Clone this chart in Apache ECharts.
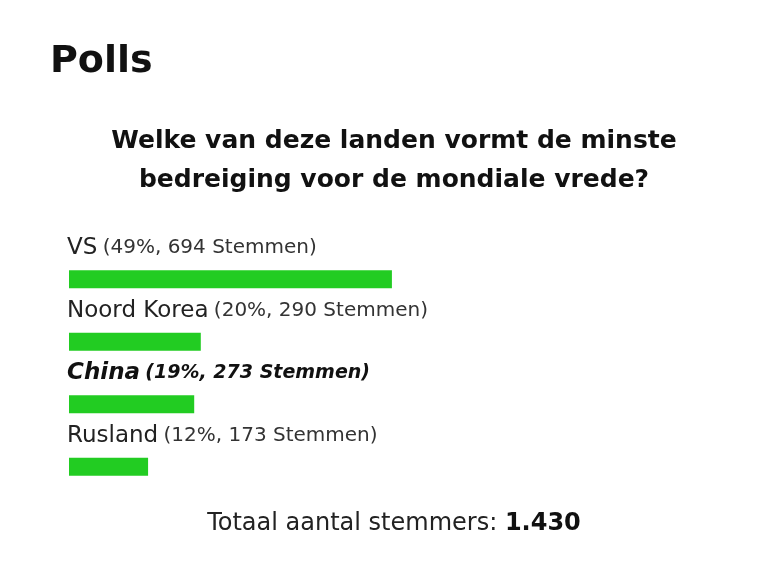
<!DOCTYPE html>
<html>
<head>
<meta charset="utf-8">
<script src="https://cdn.jsdelivr.net/npm/echarts@6/dist/echarts.min.js"></script>
<style>
  html, body { margin: 0; padding: 0; background: #fff; }
  #chart { width: 759px; height: 562px; }
</style>
</head>
<body>
<div id="chart"></div>
<script>
// Poll options, their share of the votes and the raw vote counts
const countries = ['VS', 'Noord Korea', 'China', 'Rusland'];
const percentages = [49, 20, 19, 12];
const votes = [694, 290, 273, 173];
// The option the current visitor voted for is highlighted
const chosen = 'China';

const FONT = 'DejaVu Sans';
const totalVotes = votes.reduce((a, b) => a + b, 0);
const formatThousands = n => String(n).replace(/\B(?=(\d{3})+(?!\d))/g, '.');

const chart = echarts.init(document.getElementById('chart'), null, { renderer: 'canvas' });

const barData = countries.map((c, i) => ({
  value: percentages[i],
  label: {
    formatter: c === chosen
      ? '{sn|' + c + '} {sd|(' + percentages[i] + '%, ' + votes[i] + ' Stemmen)}'
      : '{n|' + c + '} {d|(' + percentages[i] + '%, ' + votes[i] + ' Stemmen)}'
  }
}));

chart.setOption({
  animation: false,
  backgroundColor: '#ffffff',
  title: [
    {
      text: 'Polls',
      left: 45, top: 38,
      textStyle: { fontFamily: FONT, fontSize: 38, fontWeight: 'bold', color: '#111' }
    },
    {
      text: 'Welke van deze landen vormt de minste\nbedreiging voor de mondiale vrede?',
      left: 389, top: 117, textAlign: 'center',
      textStyle: { fontFamily: FONT, fontSize: 25, fontWeight: 'bold', color: '#111', lineHeight: 39, align: 'center' }
    },
    {
      text: '{a|Totaal aantal stemmers: }{b|' + formatThousands(totalVotes) + '}',
      left: 389, top: 507, textAlign: 'center',
      textStyle: {
        rich: {
          a: { fontFamily: FONT, fontSize: 24, fontWeight: 'normal', color: '#222' },
          b: { fontFamily: FONT, fontSize: 24, fontWeight: 'bold', color: '#111' }
        }
      }
    }
  ],
  grid: { left: 69, width: 659, top: 248, height: 250, containLabel: false },
  xAxis: { type: 'value', min: 0, max: 100, show: false },
  yAxis: { type: 'category', data: countries, inverse: true, show: false },
  series: [{
    type: 'bar',
    data: barData,
    barWidth: 18,
    itemStyle: { color: '#22cc22' },
    label: {
      show: true,
      position: [-2, -22],
      align: 'left',
      verticalAlign: 'middle',
      rich: {
        n: { fontFamily: FONT, fontSize: 23, color: '#222' },
        d: { fontFamily: FONT, fontSize: 20, color: '#333', padding: [0, 0, 0, 2] },
        sn: { fontFamily: FONT, fontSize: 23, fontWeight: 'bold', fontStyle: 'italic', color: '#111' },
        sd: { fontFamily: FONT, fontSize: 19, fontWeight: 'bold', fontStyle: 'italic', color: '#111', padding: [0, 0, 0, 2] }
      }
    }
  }]
});
</script>
</body>
</html>
